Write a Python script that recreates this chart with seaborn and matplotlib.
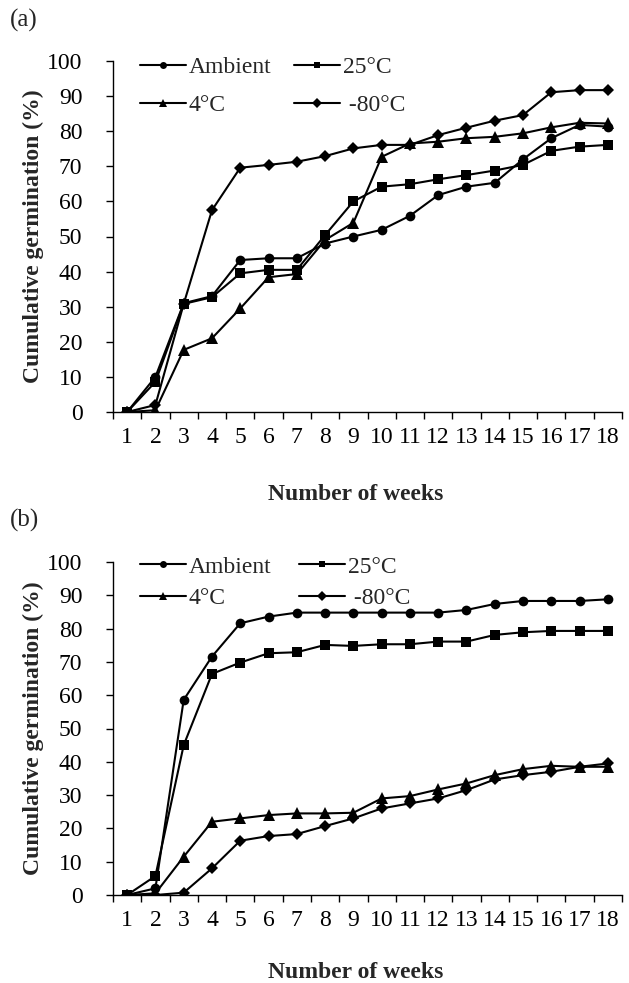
import numpy as np
import pandas as pd
import matplotlib.pyplot as plt
import seaborn as sns
from matplotlib.lines import Line2D

# Semanas y valores
WEEKS = list(range(1, 19))
CONDITIONS = ["Ambient", "25°C", "4°C", "-80°C"]

A_AMBIENT = [0, 10, 31, 33, 43.3, 43.8, 43.8, 48, 50, 51.9, 55.9, 61.8, 64.2, 65.3, 72, 78, 81.8, 81.3]
A_25C     = [0, 8.6, 30.8, 32.7, 39.5, 40.5, 40.5, 50.4, 60, 64.2, 64.9, 66.3, 67.5, 68.8, 70.4, 74.4, 75.6, 76.1]
A_4C      = [0, 0.5, 17.7, 21, 29.5, 38.4, 39.3, 49, 53.9, 72.7, 76.5, 77, 78, 78.4, 79.4, 81.1, 82.4, 82.2]
A_M80C    = [0, 2, 30.8, 57.5, 69.6, 70.4, 71.3, 72.9, 75.1, 76.1, 76.1, 78.9, 81, 83, 84.6, 91.1, 91.7, 91.7]

B_AMBIENT = [0, 2, 58.6, 71.6, 81.6, 83.6, 84.8, 84.8, 84.8, 84.8, 84.8, 84.8, 85.6, 87.4, 88.3, 88.3, 88.3, 88.8]
B_25C     = [0, 5.7, 45, 66.4, 69.8, 72.6, 72.9, 75.1, 74.8, 75.3, 75.3, 76.1, 76.1, 78.1, 78.9, 79.3, 79.3, 79.3]
B_4C      = [0, 0.5, 11.5, 22, 23, 24, 24.5, 24.5, 24.7, 29, 29.7, 31.7, 33.5, 36, 37.8, 38.8, 38.5, 38.5]
B_M80C    = [0, 0, 0.7, 8, 16.3, 17.7, 18.3, 20.7, 23, 26, 27.5, 29, 31.5, 34.7, 36, 37, 38.5, 39.5]

Y_TICKS = list(range(0, 101, 10))

MARKERS = {"Ambient": "o", "25°C": "s", "4°C": "^", "-80°C": "D"}
MARKER_SIZE = {"o": 7, "s": 7, "^": 8.5, "D": 6.3}
PALETTE = {c: "black" for c in CONDITIONS}
FS = 17

sns.set_theme(style="ticks")
plt.rcParams["font.family"] = ["Liberation Serif", "DejaVu Serif"]


def long_frame(series: list[list[float]]) -> pd.DataFrame:
    rows = []
    for cond, vals in zip(CONDITIONS, series):
        for w, v in zip(WEEKS, vals):
            rows.append({"week": w, "germination": v, "condition": cond})
    return pd.DataFrame(rows)


def draw_panel(ax, df, leg_y, labelspacing, colspacing, xlab_y) -> None:
    sns.lineplot(
        data=df, x="week", y="germination",
        hue="condition", style="condition", hue_order=CONDITIONS,
        markers=MARKERS, dashes=False, palette=PALETTE,
        linewidth=1.5, markersize=7, markeredgewidth=0, ax=ax, legend=False,
    )
    # tamaño de marcador según forma (los triángulos se ven más grandes en el original)
    for ln in ax.lines:
        m = ln.get_marker()
        if m in MARKER_SIZE:
            ln.set_markersize(MARKER_SIZE[m])

    # leyenda en 2 filas: Ambient / 25°C arriba, 4°C / -80°C abajo
    legend_order = ["Ambient", "4°C", "25°C", "-80°C"]
    handles = [
        Line2D([], [], color="black", lw=1.5, marker=MARKERS[c],
               markersize=6 if MARKERS[c] == "^" else 5, markeredgewidth=0)
        for c in legend_order
    ]
    labels = [c if c != "-80°C" else " -80°C" for c in legend_order]
    ax.legend(
        handles, labels,
        ncol=2, loc="upper left", bbox_to_anchor=(0.053, leg_y),
        frameon=False, fontsize=FS, handlelength=1.95, handletextpad=0.12,
        columnspacing=colspacing, labelspacing=labelspacing, borderaxespad=0,
        borderpad=0,
    )

    ax.set_xlim(0.5, 18.5)
    ax.set_ylim(0, 100)
    ax.set_xticks(WEEKS)
    ax.set_xticks(np.arange(0.5, 18.6, 1), minor=True)
    ax.set_yticks(Y_TICKS)
    ax.tick_params(axis="x", which="major", length=0, pad=11, labelsize=FS, colors="black")
    ax.tick_params(axis="x", which="minor", length=5, width=1, direction="out", color="black")
    ax.tick_params(axis="y", length=5, width=1, pad=17, labelsize=FS, colors="black")

    sns.despine(ax=ax)
    for sp in ("left", "bottom"):
        ax.spines[sp].set_linewidth(1)
        ax.spines[sp].set_color("black")

    ax.set_ylabel("Cumulative germination (%)", fontsize=FS, fontweight="bold")
    ax.set_xlabel("Number of weeks", fontsize=FS, fontweight="bold")
    ax.yaxis.set_label_coords(-0.136, 0.5)
    ax.xaxis.set_label_coords(0.477, xlab_y)


def main() -> None:
    fig = plt.figure(figsize=(6.29, 9.83), dpi=100)
    ax_a = fig.add_axes([113 / 629, 1 - 412 / 983, 509 / 629, 351 / 983])
    ax_b = fig.add_axes([113 / 629, 1 - 895 / 983, 509 / 629, 333 / 983])

    draw_panel(ax_a, long_frame([A_AMBIENT, A_25C, A_4C, A_M80C]), 1.012, 0.7, 0.95, -0.205)
    draw_panel(ax_b, long_frame([B_AMBIENT, B_25C, B_4C, B_M80C]), 1.018, 0.42, 1.15, -0.201)

    fig.text(10 / 629, 1 - 20 / 983, "(a)", fontsize=18, va="center")
    fig.text(10 / 629, 1 - 520 / 983, "(b)", fontsize=18, va="center")

    fig.savefig("out.png", dpi=100)
    plt.close(fig)


if __name__ == "__main__":
    main()
